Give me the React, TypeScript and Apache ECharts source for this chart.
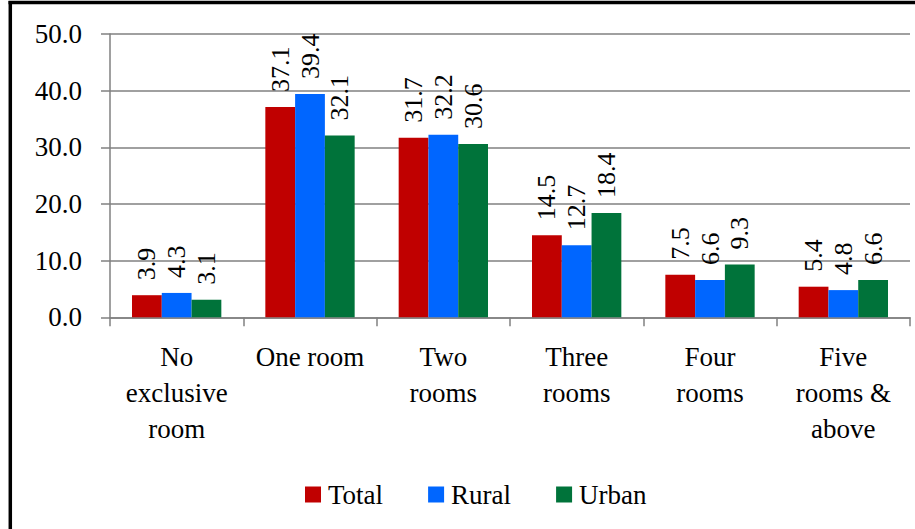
import React, { useEffect, useRef } from "react";
import * as echarts from "echarts";

const categories = [
  "No\nexclusive\nroom",
  "One room",
  "Two\nrooms",
  "Three\nrooms",
  "Four\nrooms",
  "Five\nrooms &\nabove",
];
const totalValues = [3.9, 37.1, 31.7, 14.5, 7.5, 5.4];
const ruralValues = [4.3, 39.4, 32.2, 12.7, 6.6, 4.8];
const urbanValues = [3.1, 32.1, 30.6, 18.4, 9.3, 6.6];
const seriesNames = ["Total", "Rural", "Urban"];
const seriesColors = ["#C00000", "#0066FF", "#00733A"];

const FONT = "Liberation Serif";

export default function App() {
  const ref = useRef<HTMLDivElement>(null);
  useEffect(() => {
    if (!ref.current) return;
    const chart = echarts.init(ref.current, null, { renderer: "svg" });
    const dataSets = [totalValues, ruralValues, urbanValues];
    chart.setOption({
      animation: false,
      backgroundColor: "#ffffff",
      textStyle: { fontFamily: FONT },
      grid: { left: 110, right: 5, top: 34, bottom: 211.7, containLabel: false },
      legend: {
        data: seriesNames,
        left: 300,
        top: 476,
        icon: "rect",
        itemWidth: 16,
        itemHeight: 16,
        itemGap: 45,
        textStyle: { fontSize: 27, fontFamily: FONT, color: "#000", padding: [0, 0, 0, 2] },
      },
      xAxis: {
        type: "category",
        data: categories,
        axisLine: { show: true, lineStyle: { color: "#808080", width: 1.5 } },
        axisTick: { show: true, length: 9, lineStyle: { color: "#808080", width: 1.5 } },
        axisLabel: {
          interval: 0,
          fontSize: 27,
          lineHeight: 36,
          margin: 22,
          color: "#000",
          fontFamily: FONT,
        },
      },
      yAxis: {
        type: "value",
        min: 0,
        max: 50,
        interval: 10,
        axisLine: { show: true, lineStyle: { color: "#808080", width: 1.5 } },
        axisTick: { show: true, length: 9, lineStyle: { color: "#808080", width: 1.5 } },
        splitLine: { show: true, lineStyle: { color: "#808080", width: 1.5 } },
        axisLabel: {
          fontSize: 27,
          margin: 28,
          color: "#000",
          fontFamily: FONT,
          formatter: (v: number) => v.toFixed(1),
        },
      },
      series: seriesNames.map((name, i) => ({
        name,
        type: "bar",
        data: dataSets[i],
        barGap: "0%",
        barCategoryGap: "33%",
        itemStyle: { color: seriesColors[i] },
        label: {
          show: true,
          position: "top",
          rotate: 90,
          align: "left",
          verticalAlign: "middle",
          distance: 15,
          fontSize: 26,
          fontFamily: FONT,
          color: "#000",
          formatter: (p: any) => Number(p.value).toFixed(1),
        },
      })),
      graphic: [
        {
          type: "line",
          shape: { x1: 10.3, y1: 1, x2: 10.3, y2: 529 },
          style: { stroke: "#000", lineWidth: 3.5 },
        },
        {
          type: "line",
          shape: { x1: 8.5, y1: 2.5, x2: 915, y2: 2.5 },
          style: { stroke: "#000", lineWidth: 3.5 },
        },
      ],
    });
    return () => chart.dispose();
  }, []);
  return (
    <div
      ref={ref}
      style={{ position: "fixed", left: 0, top: 0, width: 915, height: 529 }}
    />
  );
}
